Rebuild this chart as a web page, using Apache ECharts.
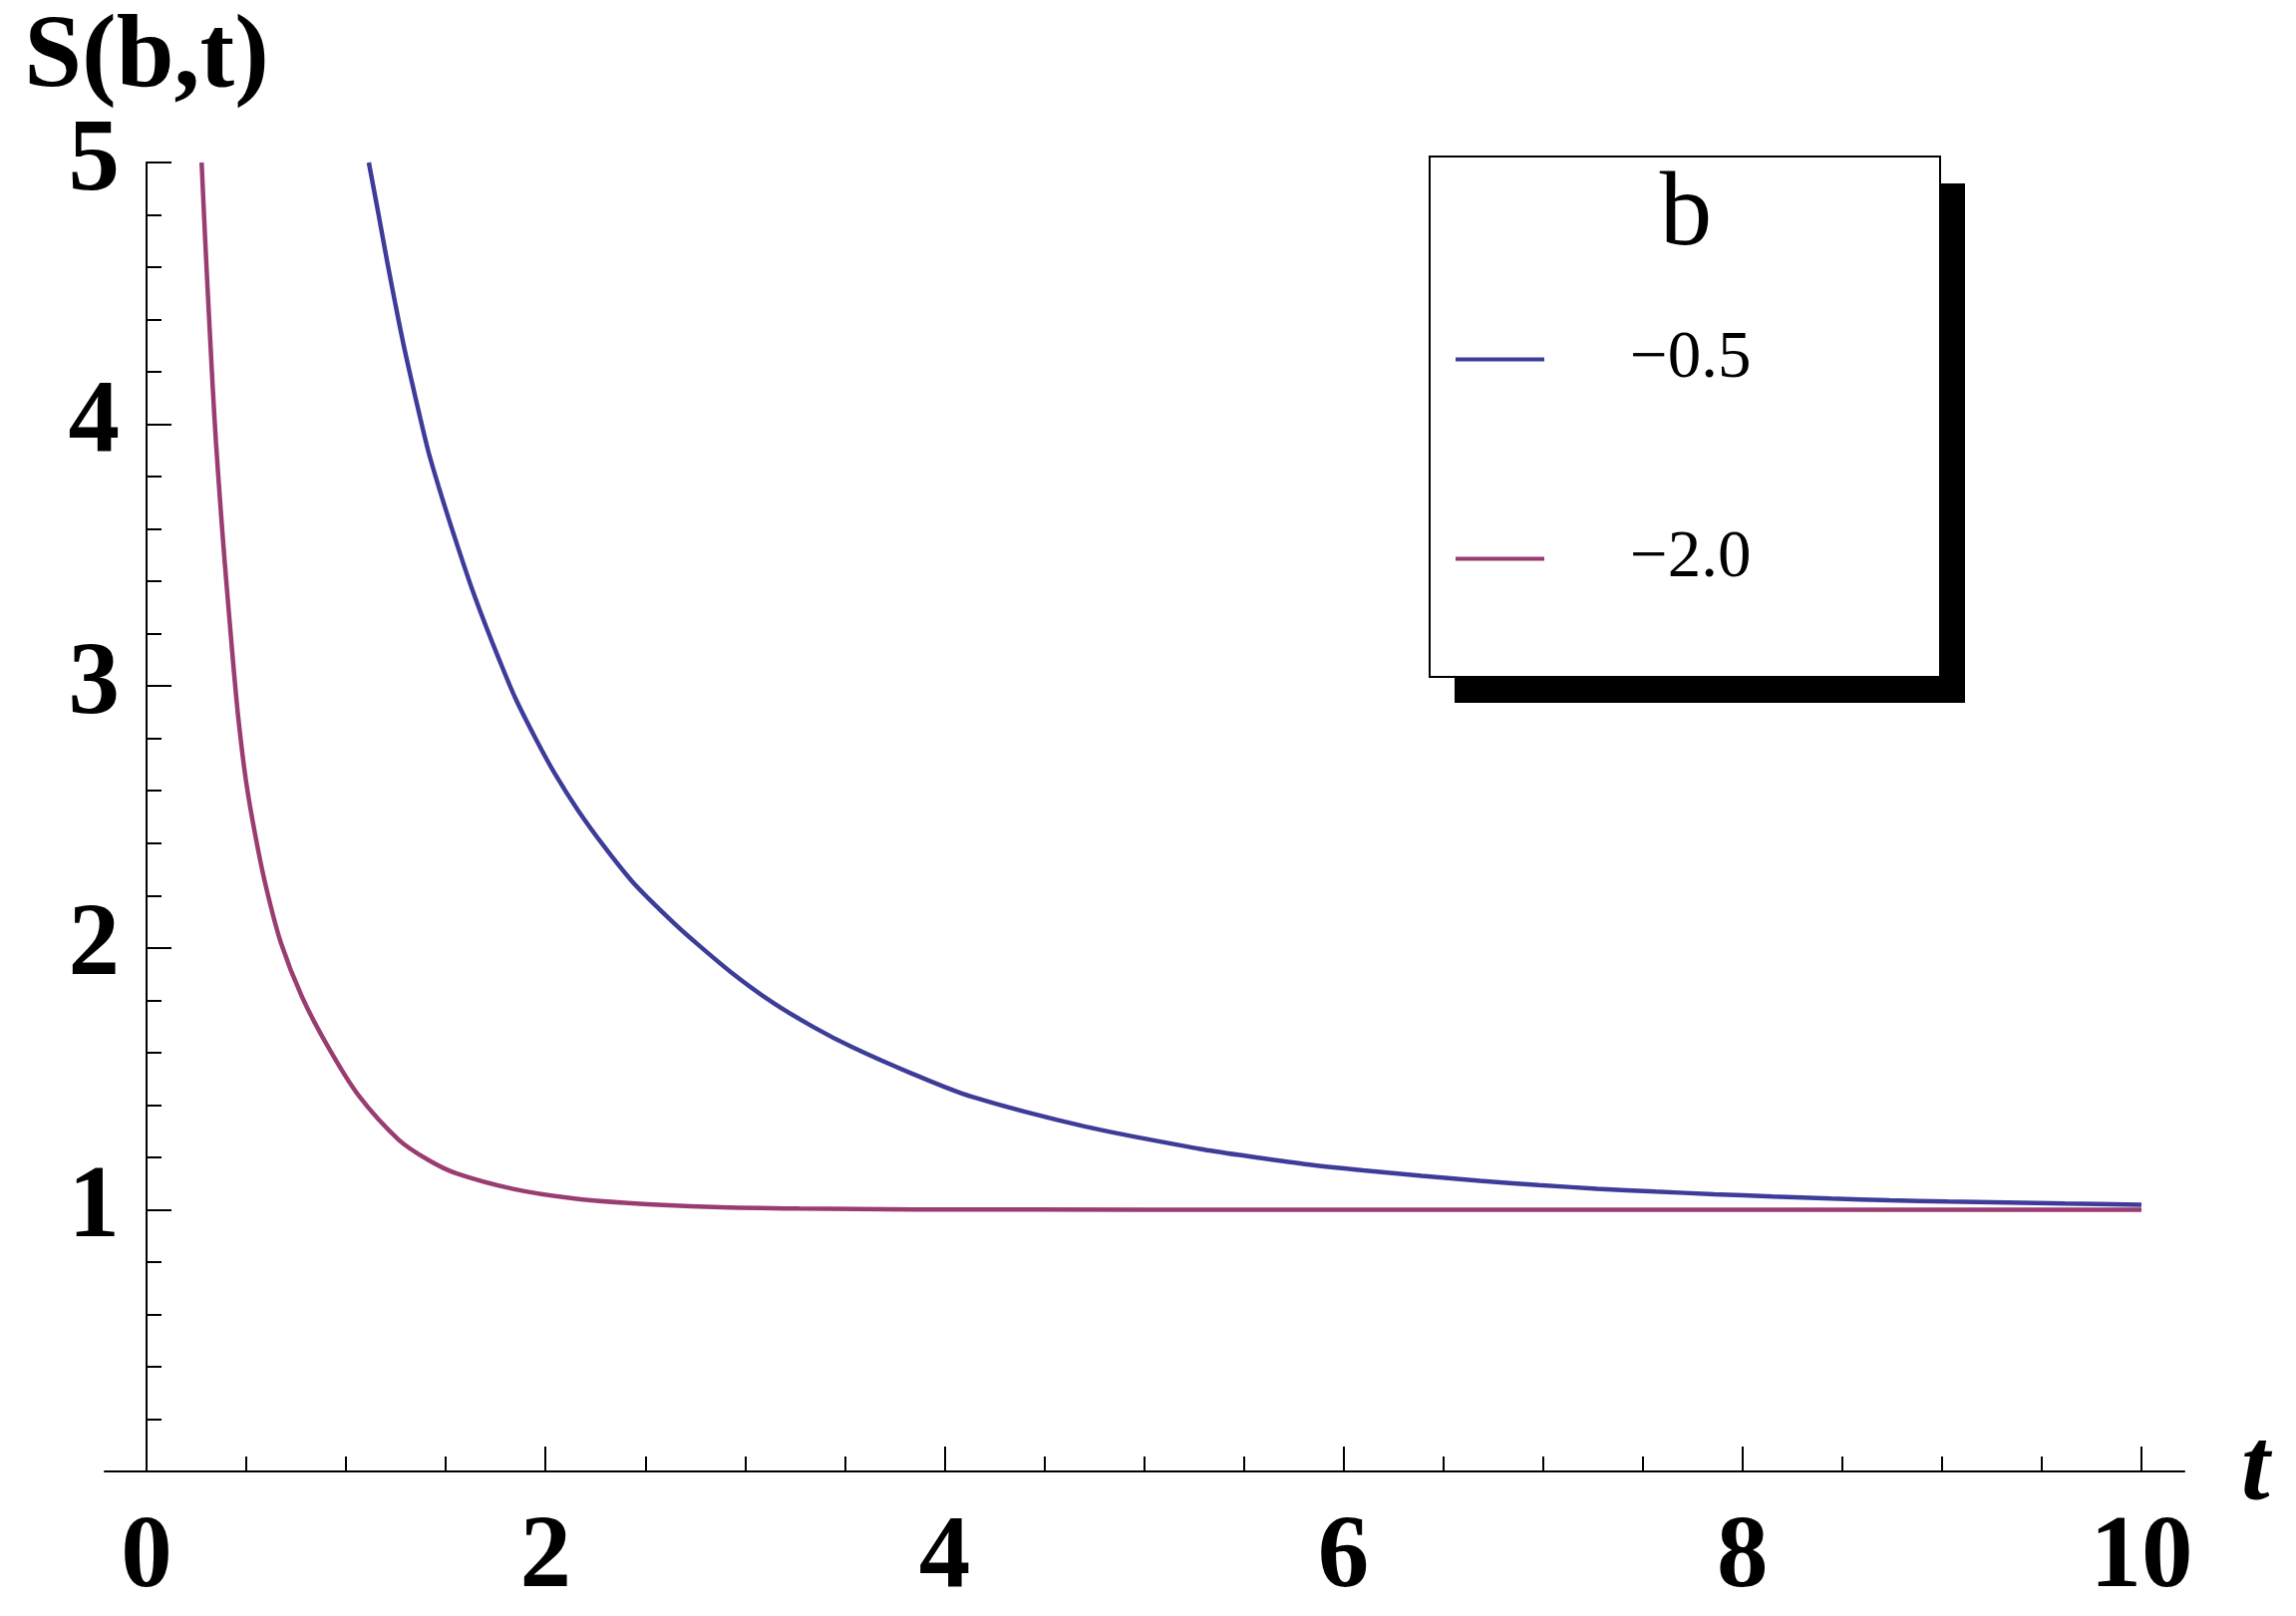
<!DOCTYPE html>
<html>
<head>
<meta charset="utf-8">
<script src="https://cdn.jsdelivr.net/npm/echarts@6/dist/echarts.min.js"></script>
<style>
  html, body { margin: 0; padding: 0; background: #ffffff; }
  #chart { width: 2303px; height: 1621px; }
</style>
</head>
<body>
<div id="chart"></div>
<script>
// ---- data ----
const seriesNames = ['\u22120.5', '\u22122.0'];
const blueT = [1.114,1.164,1.206,1.248,1.289,1.331,1.373,1.414,1.464,1.514,1.564,1.631,1.698,1.764,1.848,1.948,2.047,2.164,2.297,2.430,2.514,2.647,2.721,2.928,3.135,3.342,3.539,3.836,4.133,4.707,5.281,5.512,5.806,6.099,6.392,6.685,6.979,7.272,7.565,7.858,8.152,8.445,8.738,9.031,9.325,9.618,10.0];
const blueS = [5.000,4.797,4.622,4.456,4.301,4.158,4.020,3.892,3.762,3.640,3.523,3.372,3.235,3.108,2.955,2.803,2.665,2.524,2.384,2.257,2.190,2.092,2.041,1.908,1.793,1.698,1.620,1.520,1.432,1.317,1.232,1.205,1.174,1.150,1.129,1.110,1.094,1.080,1.069,1.059,1.050,1.042,1.036,1.031,1.027,1.023,1.019];
const purpleT = [0.276,0.291,0.306,0.331,0.348,0.373,0.390,0.415,0.435,0.461,0.498,0.545,0.598,0.673,0.781,0.915,1.064,1.264,1.414,1.551,1.838,2.125,2.412,2.842,3.272,3.846,5.0,7.0,10.0];
const purpleS = [5.000,4.750,4.517,4.150,3.930,3.660,3.490,3.260,3.080,2.870,2.640,2.430,2.235,2.020,1.810,1.615,1.435,1.267,1.189,1.139,1.079,1.044,1.025,1.010,1.004,1.001,1.000,1.000,1.000];

const xMajorTicks = [0, 2, 4, 6, 8, 10];
const xMinorTicks = [0.5, 1, 1.5, 2.5, 3, 3.5, 4.5, 5, 5.5, 6.5, 7, 7.5, 8.5, 9, 9.5];
const yMajorTicks = [1, 2, 3, 4, 5];
const yMinorTicks = [0.2,0.4,0.6,0.8,1.2,1.4,1.6,1.8,2.2,2.4,2.6,2.8,3.2,3.4,3.6,3.8,4.2,4.4,4.6,4.8];

const xName = 't';
const yName = 'S(b,t)';
const legendTitle = 'b';

// ---- chart ----
const SERIF = "'Liberation Serif', 'Times New Roman', serif";
const colors = ['#3d3d99', '#993d71'];
const zip = (a, b) => a.map((v, i) => [v, b[i]]);

const axisLineStyle = { color: '#000', width: 2 };
const baseX = {
  type: 'value', min: -0.21, max: 10.215, position: 'bottom',
  splitLine: { show: false },
  axisLine: { show: true, onZero: true, lineStyle: axisLineStyle }
};
const baseY = {
  type: 'value', min: 0, max: 5, position: 'left',
  splitLine: { show: false },
  axisLine: { show: true, onZero: true, onZeroAxisIndex: 0, lineStyle: axisLineStyle }
};

const chart = echarts.init(document.getElementById('chart'), null, { renderer: 'canvas' });
chart.setOption({
  backgroundColor: '#ffffff',
  animation: false,
  color: colors,
  grid: { left: 105, right: 112, top: 163, bottom: 145, containLabel: false, outerBoundsMode: 'none' },
  xAxis: [
    Object.assign({}, baseX, {
      name: xName, nameLocation: 'end', nameGap: 57,
      nameTextStyle: { fontFamily: SERIF, fontSize: 103, fontWeight: 'bold', fontStyle: 'italic', color: '#000', verticalAlign: 'middle', padding: [34, 0, 0, 0] },
      axisTick: { show: true, inside: true, length: 25, lineStyle: { color: '#000', width: 2 }, customValues: xMajorTicks },
      axisLabel: { show: true, customValues: xMajorTicks, margin: 37, fontFamily: SERIF, fontSize: 103, fontWeight: 'bold', color: '#000' }
    }),
    Object.assign({}, baseX, {
      axisLine: { show: false, onZero: true },
      axisTick: { show: true, inside: true, length: 15, lineStyle: { color: '#000', width: 2 }, customValues: xMinorTicks },
      axisLabel: { show: false }
    })
  ],
  yAxis: [
    Object.assign({}, baseY, {
      name: yName, nameLocation: 'end', nameGap: 49,
      nameTextStyle: { fontFamily: SERIF, fontSize: 104, fontWeight: 'bold', color: '#000' },
      axisTick: { show: true, inside: true, length: 25, lineStyle: { color: '#000', width: 2 }, customValues: yMajorTicks },
      axisLabel: { show: true, customValues: yMajorTicks, margin: -15, fontFamily: SERIF, fontSize: 103, fontWeight: 'bold', color: '#000' }
    }),
    Object.assign({}, baseY, {
      axisLine: { show: false, onZero: true, onZeroAxisIndex: 0 },
      axisTick: { show: true, inside: true, length: 15, lineStyle: { color: '#000', width: 2 }, customValues: yMinorTicks },
      axisLabel: { show: false }
    })
  ],
  legend: {
    data: seriesNames,
    orient: 'vertical',
    left: 1460, top: 327,
    padding: 0,
    itemGap: 133,
    itemWidth: 89, itemHeight: 4,
    icon: 'rect',
    selectedMode: false,
    z: 10,
    textStyle: { fontFamily: SERIF, fontSize: 67, color: '#000', lineHeight: 67, padding: [0, 0, 0, 81] }
  },
  graphic: [
    { type: 'rect', z: 5, shape: { x: 1459, y: 184, width: 512, height: 521 }, style: { fill: '#000' } },
    { type: 'rect', z: 6, shape: { x: 1434, y: 157, width: 512, height: 522 }, style: { fill: '#fff', stroke: '#000', lineWidth: 2 } },
    { type: 'text', z: 7, x: 1691, y: 217, style: { text: legendTitle, fontFamily: SERIF, fontSize: 105, fill: '#000', align: 'center', verticalAlign: 'middle' } }
  ],
  series: [
    { name: seriesNames[0], type: 'line', xAxisIndex: 0, yAxisIndex: 0, data: zip(blueT, blueS), showSymbol: false, symbol: 'none', smooth: 0.3, lineStyle: { width: 4.5, color: colors[0] }, itemStyle: { color: colors[0] }, z: 3 },
    { name: seriesNames[1], type: 'line', xAxisIndex: 0, yAxisIndex: 0, data: zip(purpleT, purpleS), showSymbol: false, symbol: 'none', smooth: 0.3, lineStyle: { width: 4.5, color: colors[1] }, itemStyle: { color: colors[1] }, z: 3 }
  ]
});
</script>
</body>
</html>
